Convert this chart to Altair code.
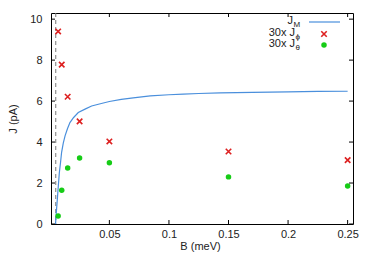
import altair as alt
import pandas as pd

# ---- data ----
B_points = [0.007, 0.01, 0.015, 0.025, 0.05, 0.15, 0.25]
J_phi = [9.40, 7.78, 6.21, 5.01, 4.03, 3.54, 3.12]
J_theta = [0.39, 1.65, 2.73, 3.22, 2.99, 2.30, 1.86]

B_curve = [0.0048, 0.0055, 0.0063, 0.0072, 0.008, 0.009, 0.0099, 0.0113, 0.0128,
           0.0148, 0.0169, 0.02, 0.0239, 0.03, 0.0351, 0.0424, 0.05, 0.06, 0.07,
           0.0843, 0.1, 0.112, 0.125, 0.143, 0.17, 0.2, 0.225, 0.25]
J_M = [0.0, 0.6, 1.2, 1.9, 2.5, 3.0, 3.5, 3.95, 4.3,
       4.65, 4.95, 5.2, 5.44, 5.62, 5.76, 5.87, 5.98, 6.08, 6.16,
       6.25, 6.31, 6.34, 6.37, 6.40, 6.43, 6.45, 6.47, 6.48]

B_dashed = [0.005]
x_ticks = [0.05, 0.1, 0.15, 0.2, 0.25]
y_ticks = [0, 2, 4, 6, 8, 10]

W, H = 302, 211
FONT = "Liberation Sans"
BLUE = "#4a8fdc"
RED = "#dd2020"
GREEN = "#16cc16"

pts = pd.DataFrame({"B": B_points, "Jphi": J_phi, "Jtheta": J_theta})
curve = pd.DataFrame({"B": B_curve, "J": J_M})
dash = pd.DataFrame({"B": B_dashed})
xt = pd.DataFrame({"B": x_ticks})
yt = pd.DataFrame({"J": y_ticks})
one = pd.DataFrame({"k": [0]})

xs = alt.Scale(domain=[0.001, 0.2545], nice=False, zero=False)
ys = alt.Scale(domain=[0, 10.3], nice=False, zero=True)

xaxis = alt.Axis(values=x_ticks, format=".2~f", title="B (meV)", labelPadding=4,
                 titlePadding=1, titleX=W / 2 - 2)
yaxis = alt.Axis(values=y_ticks, title="J (pA)", labelPadding=9, titlePadding=11)


def X(field="B"):
    return alt.X(f"{field}:Q", scale=xs, axis=xaxis)


def Y(field):
    return alt.Y(f"{field}:Q", scale=ys, axis=yaxis)


line = alt.Chart(curve).mark_line(color=BLUE, strokeWidth=1.2, clip=True).encode(
    x=X(), y=Y("J"), order="B:Q")

dashed = alt.Chart(dash).mark_rule(color="#777777", strokeDash=[4, 3], strokeWidth=1).encode(
    x=X())

XPATH = "M-1,-1L1,1M-1,1L1,-1"
crosses = alt.Chart(pts).mark_point(shape=XPATH, filled=False, color=RED, size=30,
                                    strokeWidth=1.6, opacity=1).encode(x=X(), y=Y("Jphi"))
dots = alt.Chart(pts).mark_circle(color=GREEN, size=30, opacity=1).encode(
    x=X(), y=Y("Jtheta"))

# inward ticks on all four sides
tb = alt.Chart(xt).mark_rule(color="black", strokeWidth=1).encode(
    x=X(), y=alt.value(H), y2=alt.value(H - 4))
tt = alt.Chart(xt).mark_rule(color="black", strokeWidth=1).encode(
    x=X(), y=alt.value(0), y2=alt.value(4))
tl = alt.Chart(yt).mark_rule(color="black", strokeWidth=1).encode(
    y=Y("J"), x=alt.value(0), x2=alt.value(4))
tr = alt.Chart(yt).mark_rule(color="black", strokeWidth=1).encode(
    y=Y("J"), x=alt.value(W), x2=alt.value(W - 4))

# legend (top right, inside the plot)
def txt(s, x, y, size=11, align="right"):
    return alt.Chart(one).mark_text(text=s, font=FONT, fontSize=size, align=align,
                                    baseline="middle", color="#222222").encode(
        x=alt.value(x), y=alt.value(y))


leg = [
    txt("J", 242, 8), txt("M", 242.5, 12, 8, "left"),
    txt("30x J", 244, 20), txt("ϕ", 244.5, 24, 8, "left"),
    txt("30x J", 244, 31), txt("θ", 244.5, 35, 8, "left"),
    alt.Chart(one).mark_rule(color=BLUE, strokeWidth=1.2).encode(
        x=alt.value(258), x2=alt.value(289), y=alt.value(9)),
    alt.Chart(one).mark_point(shape=XPATH, filled=False, color=RED, size=30,
                              strokeWidth=1.6, opacity=1).encode(
        x=alt.value(273), y=alt.value(21)),
    alt.Chart(one).mark_circle(color=GREEN, size=30, opacity=1).encode(
        x=alt.value(273), y=alt.value(32)),
]

chart = alt.layer(dashed, line, crosses, dots, tb, tt, tl, tr, *leg).properties(
    width=W, height=H,
    autosize=alt.AutoSizeParams(type="none"),
    padding={"left": 43, "top": 5, "right": 13, "bottom": 30},
).configure_view(stroke="black", strokeWidth=1).configure_axis(
    ticks=False, domain=False, grid=False,
    labelFont=FONT, labelFontSize=11, labelColor="#222222",
    titleFont=FONT, titleFontSize=11, titleFontWeight="normal", titleColor="#222222",
)

chart.save("out.html", embed_options={"renderer": "svg", "actions": False})
